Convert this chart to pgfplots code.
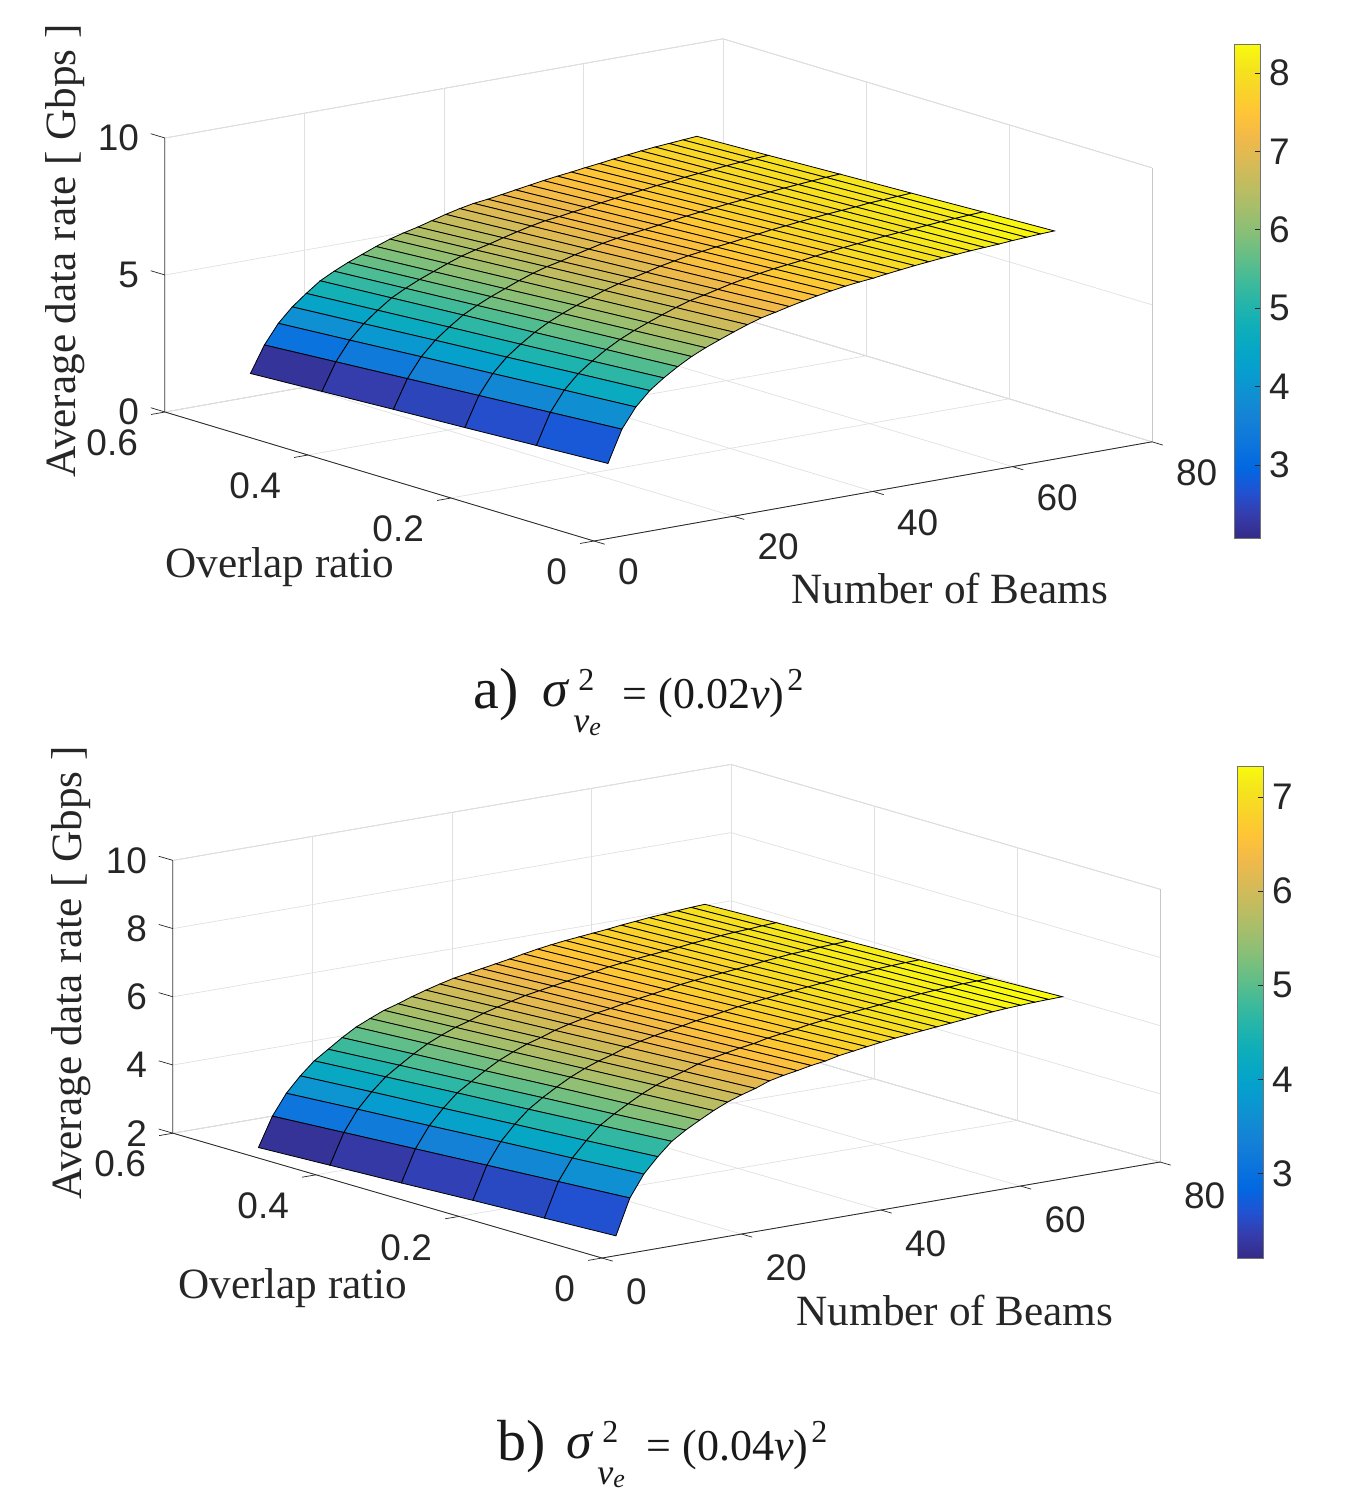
\documentclass[border=0pt]{standalone}
\usepackage{fontspec}
\setmainfont{Liberation Serif}
\setsansfont{Liberation Sans}
\usepackage{pgfplots}
\pgfplotsset{compat=1.18}

% MATLAB's older parula, every third entry
\pgfplotsset{
  colormap={parula}{
    rgb=(0.2081,0.1663,0.5292) rgb=(0.2081,0.2386,0.6771) rgb=(0.1253,0.3242,0.8303)
    rgb=(0.0060,0.4086,0.8828) rgb=(0.0498,0.4586,0.8641) rgb=(0.0779,0.5040,0.8384)
    rgb=(0.0641,0.5570,0.8240) rgb=(0.0265,0.6137,0.8135) rgb=(0.0228,0.6535,0.7768)
    rgb=(0.0590,0.6838,0.7254) rgb=(0.1453,0.7098,0.6646) rgb=(0.2586,0.7317,0.5954)
    rgb=(0.3953,0.7459,0.5244) rgb=(0.5300,0.7491,0.4661) rgb=(0.6473,0.7456,0.4188)
    rgb=(0.7525,0.7384,0.3768) rgb=(0.8507,0.7299,0.3360) rgb=(0.9450,0.7261,0.2886)
    rgb=(0.9990,0.7653,0.2164) rgb=(0.9789,0.8271,0.1633) rgb=(0.9589,0.8949,0.1132)
    rgb=(0.9763,0.9831,0.0538)
  },
  /pgf/number format/assume math mode=true,
  panel/.style={
    anchor=origin,
    clip=false,
    grid=major,
    grid style={black!12,line width=0.35pt},
    axis line style={black!22,line width=0.35pt},
    major tick length=0pt,
    tick label style={font=\fontsize{18.5}{20}\sffamily,text=black!85},
    xmin=0,xmax=80,ymin=0,ymax=0.6,
    xtick={0,20,40,60,80},
    ytick={0,0.2,0.4,0.6},
    yticklabels={0,0.2,0.4,0.6},
    yticklabel style={anchor=east,xshift=-10pt,yshift=-15.5pt},
    zticklabel style={anchor=east,xshift=-9.5pt},
  },
  surfstyle/.style={surf,shader=flat corner,draw=black,line width=0.4pt},
  cbar/.style={
    scale only axis,
    width=13pt,
    axis line style={black!55,line width=0.35pt},
    ytick pos=right,
    yticklabel pos=right,
    ytick align=inside,
    major tick length=2.5pt,
    tick style={black!85,line width=0.35pt},
    yticklabel style={font=\fontsize{18.5}{20}\sffamily,text=black!85,xshift=1pt},
  },
}
\tikzset{
  capt/.style={anchor=base west,inner sep=0,text=black!90},
  lab/.style={font=\fontsize{21.6}{24}\selectfont,text=black!85,inner sep=0},
}

% axis lines and ticks that MATLAB draws dark; #1 is the floor height
\newcommand{\frontlines}[2]{%
  \draw[black!85,line width=0.4pt] (axis cs:0,0.6,#1)--(axis cs:0,0,#1)--(axis cs:80,0,#1);
  \draw[black!50,line width=0.5pt] (axis cs:0,0.6,#1)--(axis cs:0,0.6,10);
  \pgfplotsinvokeforeach{0,20,40,60,80}{\draw[black!85,line width=0.35pt] (axis cs:##1,0,#1)--(axis cs:##1,-0.015,#1);}
  \pgfplotsinvokeforeach{0,0.2,0.4,0.6}{\draw[black!85,line width=0.35pt] (axis cs:0,##1,#1)--(axis cs:-2,##1,#1);}
  \pgfplotsinvokeforeach{#2}{\draw[black!85,line width=0.35pt] (axis cs:0,0.6,##1)--(axis cs:0,0.62,##1);}
}

\begin{document}
\begin{tikzpicture}
\path[use as bounding box] (0,0) rectangle (680pt,-747pt);
\begin{scope}[x=0.5pt,y=-0.5pt]
  \coordinate (oa) at (594,541);
  \coordinate (ob) at (602,1258);
  \coordinate (cba) at (1217,538);
  \coordinate (cbb) at (1220,1258);
\end{scope}

\begin{axis}[
  panel,
  at={(oa)},
  x={(3.4875pt,0.62pt)},y={(-357.5pt,107.5pt)},z={(0pt,13.7pt)},
  zmin=0,zmax=10,ztick={0,5,10},
  xticklabel style={anchor=west,xshift=8.5pt,yshift=-15.5pt},
  point meta min=2.07,point meta max=8.37,
  colorbar,
  colorbar style={cbar,at={(cba)},anchor=south west,height=247pt,ytick={3,4,5,6,7,8}},
]
\addplot3[surfstyle] coordinates {
(2,0,2.74)(2,0.1,2.61)(2,0.2,2.48)(2,0.3,2.36)(2,0.4,2.23)(2,0.5,2.10)

(4,0,3.90)(4,0.1,3.73)(4,0.2,3.56)(4,0.3,3.39)(4,0.4,3.22)(4,0.5,3.05)

(6,0,4.62)(6,0.1,4.45)(6,0.2,4.27)(6,0.3,4.10)(6,0.4,3.92)(6,0.5,3.75)

(8,0,5.13)(8,0.1,4.96)(8,0.2,4.78)(8,0.3,4.61)(8,0.4,4.43)(8,0.5,4.26)

(10,0,5.50)(10,0.1,5.33)(10,0.2,5.16)(10,0.3,5.00)(10,0.4,4.83)(10,0.5,4.66)

(12,0,5.82)(12,0.1,5.66)(12,0.2,5.50)(12,0.3,5.35)(12,0.4,5.19)(12,0.5,5.03)

(14,0,6.10)(14,0.1,5.94)(14,0.2,5.78)(14,0.3,5.61)(14,0.4,5.45)(14,0.5,5.29)

(16,0,6.33)(16,0.1,6.17)(16,0.2,6.01)(16,0.3,5.84)(16,0.4,5.68)(16,0.5,5.52)

(18,0,6.53)(18,0.1,6.37)(18,0.2,6.21)(18,0.3,6.04)(18,0.4,5.88)(18,0.5,5.72)

(20,0,6.72)(20,0.1,6.56)(20,0.2,6.40)(20,0.3,6.24)(20,0.4,6.08)(20,0.5,5.92)

(22,0,6.90)(22,0.1,6.74)(22,0.2,6.58)(22,0.3,6.42)(22,0.4,6.26)(22,0.5,6.10)

(24,0,7.06)(24,0.1,6.90)(24,0.2,6.73)(24,0.3,6.57)(24,0.4,6.40)(24,0.5,6.24)

(26,0,7.17)(26,0.1,7.01)(26,0.2,6.85)(26,0.3,6.68)(26,0.4,6.52)(26,0.5,6.36)

(28,0,7.29)(28,0.1,7.13)(28,0.2,6.97)(28,0.3,6.82)(28,0.4,6.66)(28,0.5,6.50)

(30,0,7.40)(30,0.1,7.25)(30,0.2,7.10)(30,0.3,6.94)(30,0.4,6.79)(30,0.5,6.64)

(32,0,7.50)(32,0.1,7.35)(32,0.2,7.20)(32,0.3,7.06)(32,0.4,6.91)(32,0.5,6.76)

(34,0,7.59)(34,0.1,7.44)(34,0.2,7.30)(34,0.3,7.15)(34,0.4,7.01)(34,0.5,6.86)

(36,0,7.67)(36,0.1,7.52)(36,0.2,7.37)(36,0.3,7.22)(36,0.4,7.07)(36,0.5,6.92)

(38,0,7.73)(38,0.1,7.58)(38,0.2,7.44)(38,0.3,7.29)(38,0.4,7.15)(38,0.5,7.00)

(40,0,7.78)(40,0.1,7.64)(40,0.2,7.50)(40,0.3,7.36)(40,0.4,7.22)(40,0.5,7.08)

(42,0,7.85)(42,0.1,7.71)(42,0.2,7.57)(42,0.3,7.44)(42,0.4,7.30)(42,0.5,7.16)

(44,0,7.91)(44,0.1,7.78)(44,0.2,7.64)(44,0.3,7.51)(44,0.4,7.37)(44,0.5,7.24)

(46,0,7.97)(46,0.1,7.84)(46,0.2,7.71)(46,0.3,7.57)(46,0.4,7.44)(46,0.5,7.31)

(48,0,8.02)(48,0.1,7.89)(48,0.2,7.76)(48,0.3,7.63)(48,0.4,7.50)(48,0.5,7.37)

(50,0,8.07)(50,0.1,7.94)(50,0.2,7.82)(50,0.3,7.69)(50,0.4,7.57)(50,0.5,7.44)

(52,0,8.11)(52,0.1,7.99)(52,0.2,7.87)(52,0.3,7.74)(52,0.4,7.62)(52,0.5,7.50)

(54,0,8.15)(54,0.1,8.03)(54,0.2,7.92)(54,0.3,7.80)(54,0.4,7.69)(54,0.5,7.57)

(56,0,8.18)(56,0.1,8.07)(56,0.2,7.96)(56,0.3,7.85)(56,0.4,7.74)(56,0.5,7.63)

(58,0,8.21)(58,0.1,8.11)(58,0.2,8.00)(58,0.3,7.90)(58,0.4,7.79)(58,0.5,7.69)

(60,0,8.25)(60,0.1,8.15)(60,0.2,8.05)(60,0.3,7.94)(60,0.4,7.84)(60,0.5,7.74)

(62,0,8.28)(62,0.1,8.18)(62,0.2,8.08)(62,0.3,7.98)(62,0.4,7.88)(62,0.5,7.78)

(64,0,8.31)(64,0.1,8.21)(64,0.2,8.11)(64,0.3,8.02)(64,0.4,7.92)(64,0.5,7.82)

(66,0,8.33)(66,0.1,8.24)(66,0.2,8.14)(66,0.3,8.05)(66,0.4,7.95)(66,0.5,7.86)
};
\frontlines{0}{0,5,10}
\end{axis}

\begin{axis}[
  panel,
  at={(ob)},
  x={(3.4875pt,0.60pt)},y={(-357.5pt,104pt)},z={(0pt,17.05pt)},
  zmin=2,zmax=10,ztick={2,4,6,8,10},
  xticklabel style={anchor=west,xshift=8.5pt,yshift=-17pt},
  point meta min=2.10,point meta max=7.33,
  colorbar,
  colorbar style={cbar,at={(cbb)},anchor=south west,height=246pt,ytick={3,4,5,6,7}},
]
\addplot3[surfstyle] coordinates {
(2,0,2.58)(2,0.1,2.49)(2,0.2,2.40)(2,0.3,2.30)(2,0.4,2.21)(2,0.5,2.12)

(4,0,3.62)(4,0.1,3.49)(4,0.2,3.36)(4,0.3,3.23)(4,0.4,3.10)(4,0.5,2.97)

(6,0,4.25)(6,0.1,4.11)(6,0.2,3.98)(6,0.3,3.84)(6,0.4,3.71)(6,0.5,3.57)

(8,0,4.69)(8,0.1,4.55)(8,0.2,4.42)(8,0.3,4.28)(8,0.4,4.15)(8,0.5,4.01)

(10,0,5.07)(10,0.1,4.93)(10,0.2,4.79)(10,0.3,4.66)(10,0.4,4.52)(10,0.5,4.38)

(12,0,5.33)(12,0.1,5.19)(12,0.2,5.06)(12,0.3,4.92)(12,0.4,4.79)(12,0.5,4.65)

(14,0,5.55)(14,0.1,5.42)(14,0.2,5.30)(14,0.3,5.17)(14,0.4,5.05)(14,0.5,4.92)

(16,0,5.76)(16,0.1,5.64)(16,0.2,5.52)(16,0.3,5.40)(16,0.4,5.28)(16,0.5,5.16)

(18,0,5.94)(18,0.1,5.82)(18,0.2,5.70)(18,0.3,5.58)(18,0.4,5.46)(18,0.5,5.34)

(20,0,6.08)(20,0.1,5.97)(20,0.2,5.85)(20,0.3,5.74)(20,0.4,5.62)(20,0.5,5.51)

(22,0,6.20)(22,0.1,6.09)(22,0.2,5.97)(22,0.3,5.86)(22,0.4,5.74)(22,0.5,5.63)

(24,0,6.35)(24,0.1,6.23)(24,0.2,6.12)(24,0.3,6.00)(24,0.4,5.89)(24,0.5,5.77)

(26,0,6.44)(26,0.1,6.33)(26,0.2,6.22)(26,0.3,6.11)(26,0.4,6.00)(26,0.5,5.89)

(28,0,6.51)(28,0.1,6.41)(28,0.2,6.31)(28,0.3,6.20)(28,0.4,6.10)(28,0.5,6.00)

(30,0,6.59)(30,0.1,6.49)(30,0.2,6.39)(30,0.3,6.30)(30,0.4,6.20)(30,0.5,6.10)

(32,0,6.65)(32,0.1,6.55)(32,0.2,6.46)(32,0.3,6.36)(32,0.4,6.27)(32,0.5,6.17)

(34,0,6.74)(34,0.1,6.64)(34,0.2,6.54)(34,0.3,6.44)(34,0.4,6.34)(34,0.5,6.24)

(36,0,6.80)(36,0.1,6.70)(36,0.2,6.60)(36,0.3,6.51)(36,0.4,6.41)(36,0.5,6.31)

(38,0,6.86)(38,0.1,6.76)(38,0.2,6.67)(38,0.3,6.57)(38,0.4,6.48)(38,0.5,6.38)

(40,0,6.92)(40,0.1,6.83)(40,0.2,6.74)(40,0.3,6.64)(40,0.4,6.55)(40,0.5,6.46)

(42,0,6.97)(42,0.1,6.88)(42,0.2,6.79)(42,0.3,6.71)(42,0.4,6.62)(42,0.5,6.53)

(44,0,7.01)(44,0.1,6.93)(44,0.2,6.84)(44,0.3,6.76)(44,0.4,6.67)(44,0.5,6.59)

(46,0,7.05)(46,0.1,6.97)(46,0.2,6.89)(46,0.3,6.80)(46,0.4,6.72)(46,0.5,6.64)

(48,0,7.09)(48,0.1,7.01)(48,0.2,6.93)(48,0.3,6.84)(48,0.4,6.76)(48,0.5,6.68)

(50,0,7.13)(50,0.1,7.05)(50,0.2,6.97)(50,0.3,6.88)(50,0.4,6.80)(50,0.5,6.72)

(52,0,7.17)(52,0.1,7.09)(52,0.2,7.01)(52,0.3,6.92)(52,0.4,6.84)(52,0.5,6.76)

(54,0,7.21)(54,0.1,7.13)(54,0.2,7.05)(54,0.3,6.97)(54,0.4,6.89)(54,0.5,6.81)

(56,0,7.25)(56,0.1,7.17)(56,0.2,7.09)(56,0.3,7.01)(56,0.4,6.93)(56,0.5,6.85)

(58,0,7.28)(58,0.1,7.20)(58,0.2,7.12)(58,0.3,7.05)(58,0.4,6.97)(58,0.5,6.89)

(60,0,7.30)(60,0.1,7.22)(60,0.2,7.15)(60,0.3,7.07)(60,0.4,7.00)(60,0.5,6.92)

(62,0,7.32)(62,0.1,7.25)(62,0.2,7.17)(62,0.3,7.10)(62,0.4,7.02)(62,0.5,6.95)

(64,0,7.33)(64,0.1,7.26)(64,0.2,7.19)(64,0.3,7.12)(64,0.4,7.05)(64,0.5,6.98)

(66,0,7.34)(66,0.1,7.27)(66,0.2,7.20)(66,0.3,7.14)(66,0.4,7.07)(66,0.5,7.00)
};
\frontlines{2}{2,4,6,8,10}
\end{axis}

\begin{scope}[x=0.5pt,y=-0.5pt]
  \node[lab] at (950,588) {Number of Beams};
  \node[lab] at (280,567) {Overlap ratio};
  \node[lab,rotate=90] at (65,251) {Average data rate [ Gbps ]};
  \node[lab] at (955,1310) {Number of Beams};
  \node[lab] at (293,1288) {Overlap ratio};
  \node[lab,rotate=90] at (71,973) {Average data rate [ Gbps ]};

  \path (473,708) node[capt,font=\fontsize{29}{30}\selectfont] {a)};
  \path (542,706) node[capt,font=\fontsize{26}{27}\itshape] {σ};
  \path (578,690) node[capt,font=\fontsize{16}{17}\selectfont] {2};
  \path (573,732) node[capt,font=\fontsize{18}{19}\itshape] {v};
  \path (589,735) node[capt,font=\fontsize{13}{14}\itshape] {e};
  \path (622,708) node[capt,font=\fontsize{22}{24}\selectfont] {=};
  \path (658,708) node[capt,font=\fontsize{22}{24}\selectfont] {(0.02\textit{v})};
  \path (787,690) node[capt,font=\fontsize{16}{17}\selectfont] {2};
  \path (497,1460) node[capt,font=\fontsize{29}{30}\selectfont] {b)};
  \path (566,1458) node[capt,font=\fontsize{26}{27}\itshape] {σ};
  \path (602,1442) node[capt,font=\fontsize{16}{17}\selectfont] {2};
  \path (597,1484) node[capt,font=\fontsize{18}{19}\itshape] {v};
  \path (613,1487) node[capt,font=\fontsize{13}{14}\itshape] {e};
  \path (646,1460) node[capt,font=\fontsize{22}{24}\selectfont] {=};
  \path (682,1460) node[capt,font=\fontsize{22}{24}\selectfont] {(0.04\textit{v})};
  \path (811,1442) node[capt,font=\fontsize{16}{17}\selectfont] {2};
\end{scope}
\end{tikzpicture}
\end{document}
